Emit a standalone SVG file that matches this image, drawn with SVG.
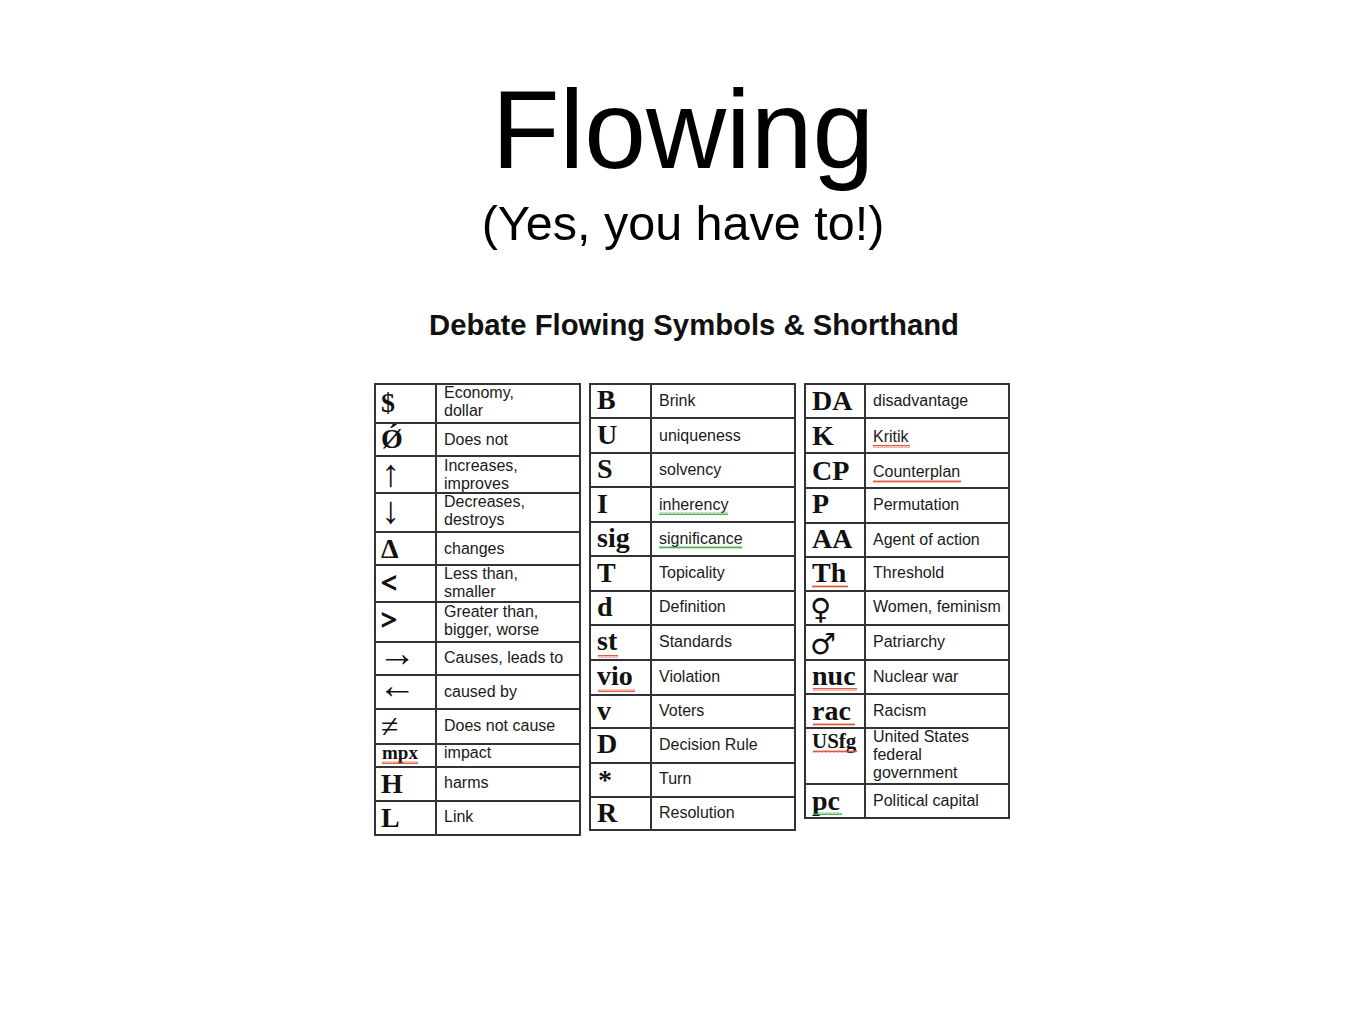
<svg xmlns="http://www.w3.org/2000/svg" width="1365" height="1024" viewBox="0 0 1365 1024">
<defs>
<style>
.ttl{font-family:"Liberation Sans",Arial,sans-serif;fill:#000}
.hd{font-family:"Liberation Sans",Arial,sans-serif;font-weight:bold;font-size:29px;fill:#111}
.d{font-family:"Liberation Sans",Arial,sans-serif;font-size:16px;fill:#1a1a1a}
.s{font-family:"Liberation Serif","Times New Roman",serif;font-weight:bold;font-size:28px;fill:#111}
.a{font-family:"Liberation Serif","Times New Roman",serif;font-size:38px;fill:#111}
.lt{stroke:#111;stroke-width:1.2}
.g{font-family:"DejaVu Sans",sans-serif;font-size:29px;fill:#111}
.grid{fill:none;stroke:#333;stroke-width:2}
</style>
<pattern id="wr" width="4" height="3" patternUnits="userSpaceOnUse"><path d="M0,2.5 L1,0.5 L2,2.5 L3,0.5 L4,2.5" fill="none" stroke="#e0452b" stroke-width="0.9"/></pattern>
<pattern id="wg" width="4" height="3" patternUnits="userSpaceOnUse"><path d="M0,2.5 L1,0.5 L2,2.5 L3,0.5 L4,2.5" fill="none" stroke="#3aa845" stroke-width="0.9"/></pattern>
</defs>
<rect width="1365" height="1024" fill="#fff"/>
<g id="title">
<text class="ttl" x="683" y="168" font-size="111" text-anchor="middle">Flowing</text>
<text class="ttl" x="683" y="240" font-size="48.5" text-anchor="middle">(Yes, you have to!)</text>
</g>
<g id="heading"><text class="hd" x="429" y="335" textLength="530" lengthAdjust="spacingAndGlyphs">Debate Flowing Symbols &amp; Shorthand</text></g>

<g id="table1">
<path class="grid" d="M375,384H580V835H375Z M436,384V835 M375,423H580 M375,456H580 M375,493H580 M375,532H580 M375,565H580 M375,602H580 M375,642H580 M375,675H580 M375,709H580 M375,744H580 M375,767H580 M375,801H580"/>
<g id="t1r1"><text class="s" x="381" y="412">$</text><text class="d" x="444" y="398">Economy,</text><text class="d" x="444" y="416">dollar</text></g>
<g id="t1r2"><text class="s" x="381" y="448">Ǿ</text><text class="d" x="444" y="445">Does not</text></g>
<g id="t1r3"><text class="a" x="381" y="486">↑</text><text class="d" x="444" y="471">Increases,</text><text class="d" x="444" y="489">improves</text></g>
<g id="t1r4"><text class="a" x="381" y="523">↓</text><text class="d" x="444" y="507">Decreases,</text><text class="d" x="444" y="525">destroys</text></g>
<g id="t1r5"><text class="s" x="381" y="558">Δ</text><text class="d" x="444" y="554">changes</text></g>
<g id="t1r6"><text class="s lt" x="381" y="592">&lt;</text><text class="d" x="444" y="579">Less than,</text><text class="d" x="444" y="597">smaller</text></g>
<g id="t1r7"><text class="s lt" x="381" y="629">&gt;</text><text class="d" x="444" y="617">Greater than,</text><text class="d" x="444" y="635">bigger, worse</text></g>
<g id="t1r8"><text class="a" x="378" y="666">→</text><text class="d" x="444" y="663">Causes, leads to</text></g>
<g id="t1r9"><text class="a" x="378" y="698">←</text><text class="d" x="444" y="697">caused by</text></g>
<g id="t1r10"><text class="a" x="381" y="737" style="font-size:32px">≠</text><text class="d" x="444" y="731">Does not cause</text></g>
<g id="t1r11"><text class="s" x="382" y="759" style="font-size:19px">mpx</text><text class="d" x="444" y="758">impact</text></g>
<g id="t1r12"><text class="s" x="381" y="793">H</text><text class="d" x="444" y="788">harms</text></g>
<g id="t1r13"><text class="s" x="381" y="827">L</text><text class="d" x="444" y="822">Link</text></g>
</g>

<g id="table2">
<path class="grid" d="M590,384H795V830H590Z M651,384V830 M590,418H795 M590,453H795 M590,487H795 M590,522H795 M590,556H795 M590,591H795 M590,625H795 M590,660H795 M590,695H795 M590,728H795 M590,763H795 M590,797H795"/>
<g id="t2r1"><text class="s" x="597" y="409">B</text><text class="d" x="659" y="406">Brink</text></g>
<g id="t2r2"><text class="s" x="597" y="444">U</text><text class="d" x="659" y="441">uniqueness</text></g>
<g id="t2r3"><text class="s" x="597" y="478">S</text><text class="d" x="659" y="475">solvency</text></g>
<g id="t2r4"><text class="s" x="597" y="513">I</text><text class="d" x="659" y="510">inherency</text></g>
<g id="t2r5"><text class="s" x="597" y="547">sig</text><text class="d" x="659" y="544">significance</text></g>
<g id="t2r6"><text class="s" x="597" y="582">T</text><text class="d" x="659" y="578">Topicality</text></g>
<g id="t2r7"><text class="s" x="597" y="616">d</text><text class="d" x="659" y="612">Definition</text></g>
<g id="t2r8"><text class="s" x="597" y="650">st</text><text class="d" x="659" y="647">Standards</text></g>
<g id="t2r9"><text class="s" x="597" y="685">vio</text><text class="d" x="659" y="682">Violation</text></g>
<g id="t2r10"><text class="s" x="597" y="720">v</text><text class="d" x="659" y="716">Voters</text></g>
<g id="t2r11"><text class="s" x="597" y="753">D</text><text class="d" x="659" y="750">Decision Rule</text></g>
<g id="t2r12"><text class="s" x="598" y="789">*</text><text class="d" x="659" y="784">Turn</text></g>
<g id="t2r13"><text class="s" x="597" y="822">R</text><text class="d" x="659" y="818">Resolution</text></g>
</g>

<g id="table3">
<path class="grid" d="M805,384H1009V818H805Z M865,384V818 M805,418H1009 M805,453H1009 M805,488H1009 M805,523H1009 M805,557H1009 M805,591H1009 M805,625H1009 M805,660H1009 M805,694H1009 M805,728H1009 M805,784H1009"/>
<g id="t3r1"><text class="s" x="812" y="410">DA</text><text class="d" x="873" y="406">disadvantage</text></g>
<g id="t3r2"><text class="s" x="812" y="445">K</text><text class="d" x="873" y="442">Kritik</text></g>
<g id="t3r3"><text class="s" x="812" y="480">CP</text><text class="d" x="873" y="477">Counterplan</text></g>
<g id="t3r4"><text class="s" x="812" y="513">P</text><text class="d" x="873" y="510">Permutation</text></g>
<g id="t3r5"><text class="s" x="812" y="548">AA</text><text class="d" x="873" y="545">Agent of action</text></g>
<g id="t3r6"><text class="s" x="812" y="582">Th</text><text class="d" x="873" y="578">Threshold</text></g>
<g id="t3r7"><text class="g" x="810" y="619">♀</text><text class="d" x="873" y="612">Women, feminism</text></g>
<g id="t3r8"><text class="g" x="810" y="654">♂</text><text class="d" x="873" y="647">Patriarchy</text></g>
<g id="t3r9"><text class="s" x="812" y="685">nuc</text><text class="d" x="873" y="682">Nuclear war</text></g>
<g id="t3r10"><text class="s" x="812" y="720">rac</text><text class="d" x="873" y="716">Racism</text></g>
<g id="t3r11"><text class="s" x="812" y="748" style="font-size:21px">USfg</text><text class="d" x="873" y="742">United States</text><text class="d" x="873" y="760">federal</text><text class="d" x="873" y="778">government</text></g>
<g id="t3r12"><text class="s" x="812" y="810">pc</text><text class="d" x="873" y="806">Political capital</text></g>
</g>

<g id="spellmarks">
<rect x="382" y="761" width="36" height="3" fill="url(#wr)"/>
<rect x="598" y="655" width="20" height="3" fill="url(#wr)"/>
<rect x="598" y="689" width="37" height="3" fill="url(#wr)"/>
<rect x="659" y="512" width="69" height="3" fill="url(#wg)"/>
<rect x="659" y="546" width="83" height="3" fill="url(#wg)"/>
<rect x="873" y="445" width="37" height="3" fill="url(#wr)"/>
<rect x="873" y="480" width="88" height="3" fill="url(#wr)"/>
<rect x="812" y="585" width="36" height="3" fill="url(#wr)"/>
<rect x="813" y="688" width="44" height="3" fill="url(#wr)"/>
<rect x="813" y="723" width="42" height="3" fill="url(#wr)"/>
<rect x="813" y="750" width="44" height="3" fill="url(#wr)"/>
<rect x="813" y="812" width="29" height="3" fill="url(#wg)"/>
</g>
</svg>
